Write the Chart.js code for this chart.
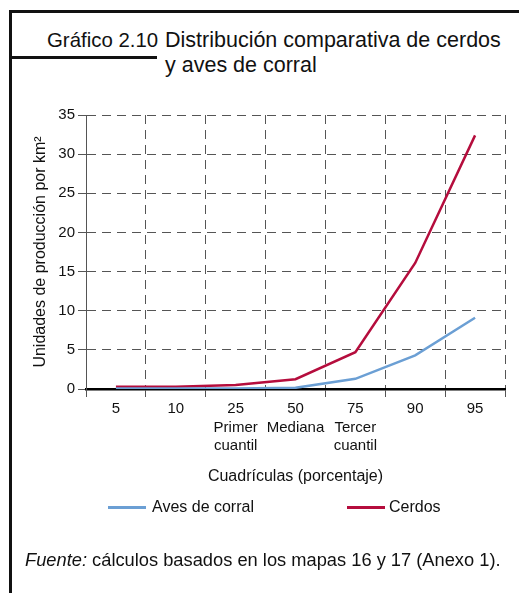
<!DOCTYPE html>
<html>
<head>
<meta charset="utf-8">
<script src="https://cdn.jsdelivr.net/npm/chart.js@4"></script>
<style>
  html, body { margin: 0; padding: 0; background: #fff; }
  body { width: 519px; height: 593px; position: relative; overflow: hidden;
         font-family: "Liberation Sans", Arial, sans-serif; color: #111; }
  .abs { position: absolute; white-space: nowrap; }
  #chartBox { position: absolute; left: 0; top: 0; width: 519px; height: 593px; }
  .frame-v { position: absolute; left: 9px; top: 10px; width: 2.5px; height: 583px; background: #111; }
  .frame-h { position: absolute; left: 9px; top: 10px; width: 510px; height: 2.5px; background: #111; }
  .frame-h2 { position: absolute; left: 9px; top: 56px; width: 148px; height: 2.5px; background: #111; }
  .title { font-size: 21.5px; line-height: 24px; }
  .leg-line { position: absolute; height: 2.5px; }
  .leg-text { font-size: 16px; line-height: 18px; }
  .foot { font-size: 18.3px; line-height: 20px; }
</style>
</head>
<body>
<div class="frame-v"></div>
<div class="frame-h"></div>
<div class="frame-h2"></div>
<div class="abs title" style="left:47px; top:28px; font-size:20.4px;">Gráfico 2.10</div>
<div class="abs title" style="left:165px; top:28px;">Distribución comparativa de cerdos</div>
<div class="abs title" style="left:165px; top:53px;">y aves de corral</div>

<div id="chartBox"><canvas id="chart"></canvas></div>

<div class="leg-line" style="left:108px; top:506px; width:38px; background:#6b9fd4;"></div>
<div class="abs leg-text" style="left:152px; top:498px;">Aves de corral</div>
<div class="leg-line" style="left:347px; top:506px; width:38px; background:#b50d3d;"></div>
<div class="abs leg-text" style="left:389px; top:498px;">Cerdos</div>

<div class="abs foot" style="left:25px; top:550px;"><i>Fuente:</i> cálculos basados en los mapas 16 y 17 (Anexo 1).</div>

<script>
// Data
const categories = [
  '5',
  '10',
  ['25', 'Primer', 'cuantil'],
  ['50', 'Mediana'],
  ['75', 'Tercer', 'cuantil'],
  '90',
  '95'
];
const avesDeCorral = [0.05, 0.05, 0.05, 0.15, 1.3, 4.3, 9.1];
const cerdos = [0.3, 0.3, 0.5, 1.25, 4.7, 16.1, 32.4];
const yTicks = [0, 5, 10, 15, 20, 25, 30, 35];

const gridColor = '#555';
const tickFont = { family: 'Liberation Sans', size: 15, lineHeight: 1.22 };

new Chart(document.getElementById('chart').getContext('2d'), {
  type: 'line',
  data: {
    labels: categories,
    datasets: [
      {
        label: 'Aves de corral',
        data: avesDeCorral,
        borderColor: '#6b9fd4',
        borderWidth: 2.5,
        pointRadius: 0,
        tension: 0,
        fill: false
      },
      {
        label: 'Cerdos',
        data: cerdos,
        borderColor: '#b50d3d',
        borderWidth: 2.5,
        pointRadius: 0,
        tension: 0,
        fill: false
      }
    ]
  },
  options: {
    responsive: true,
    maintainAspectRatio: false,
    animation: false,
    layout: { padding: { top: 115, left: 0, right: 14, bottom: 104 } },
    plugins: { legend: { display: false }, tooltip: { enabled: false } },
    scales: {
      x: {
        offset: true,
        grid: {
          offset: true,
          color: gridColor,
          lineWidth: 1,
          tickLength: 8,
          tickColor: gridColor,
          tickWidth: 1
        },
        border: { display: true, color: '#000', width: 2.5, dash: [9, 6] },
        ticks: { color: '#111', font: tickFont, padding: 3, maxRotation: 0, autoSkip: false },
        title: {
          display: true,
          text: 'Cuadrículas (porcentaje)',
          color: '#111',
          font: { family: 'Liberation Sans', size: 16 },
          padding: { top: 0, bottom: 3 }
        },
        afterFit: s => { s.height = 100; }
      },
      y: {
        min: 0,
        max: 35,
        afterBuildTicks: s => { s.ticks = yTicks.map(v => ({ value: v })); },
        grid: {
          color: gridColor,
          lineWidth: 1,
          tickLength: 8,
          tickColor: gridColor,
          tickWidth: 1
        },
        border: { display: true, color: gridColor, width: 1, dash: [9, 6] },
        ticks: { color: '#111', font: tickFont, padding: 3 },
        title: {
          display: true,
          text: 'Unidades de producción por km²',
          color: '#111',
          font: { family: 'Liberation Sans', size: 16 },
          padding: { top: 31, bottom: 0 }
        },
        afterFit: s => { s.width = 86; }
      }
    }
  }
});
</script>
</body>
</html>
